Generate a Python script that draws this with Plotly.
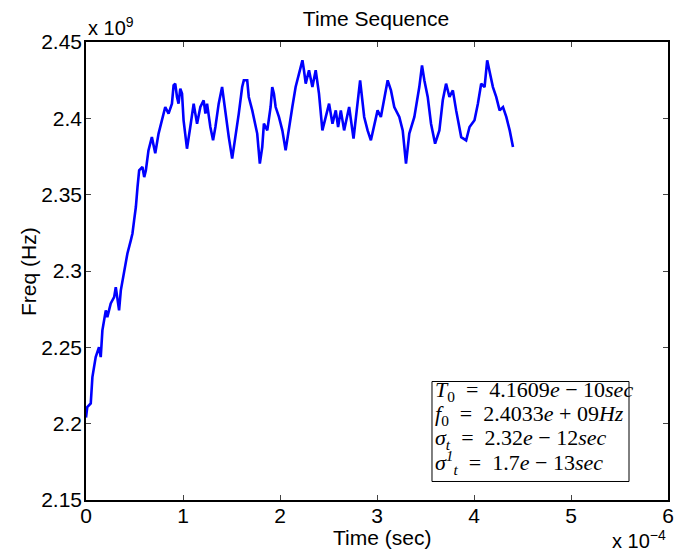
import plotly.graph_objects as go

# time in units of 1e-4 sec, frequency in units of 1e9 Hz
t = [0, 0.013, 0.049, 0.066, 0.100, 0.134, 0.152, 0.169, 0.204, 0.220, 0.255, 0.290, 0.307, 0.324, 0.341,
     0.359, 0.393, 0.427, 0.462, 0.479, 0.496, 0.514, 0.531, 0.548, 0.582, 0.600, 0.617, 0.634, 0.644,
     0.679, 0.714, 0.748, 0.783, 0.817, 0.851, 0.886, 0.903, 0.920, 0.938, 0.954, 0.972, 0.990, 1.006,
     1.024, 1.041, 1.075, 1.110, 1.127, 1.145, 1.179, 1.213, 1.231, 1.248, 1.282, 1.310, 1.334, 1.368,
     1.403, 1.420, 1.448, 1.472, 1.507, 1.541, 1.575, 1.610, 1.627, 1.662, 1.678, 1.714, 1.730, 1.765,
     1.792, 1.817, 1.834, 1.869, 1.903, 1.920, 1.937, 1.955, 1.989, 2.024, 2.058, 2.092, 2.127, 2.161,
     2.195, 2.231, 2.247, 2.265, 2.299, 2.334, 2.368, 2.402, 2.437, 2.471, 2.506, 2.541, 2.575, 2.599,
     2.627, 2.661, 2.713, 2.758, 2.799, 2.826, 2.868, 2.903, 2.937, 2.971, 3.006, 3.040, 3.075, 3.110,
     3.144, 3.178, 3.230, 3.265, 3.299, 3.333, 3.385, 3.436, 3.464, 3.488, 3.523, 3.557, 3.599, 3.643,
     3.678, 3.712, 3.747, 3.782, 3.816, 3.868, 3.919, 3.954, 4.005, 4.040, 4.074, 4.109, 4.136, 4.160,
     4.195, 4.229, 4.264, 4.299, 4.333, 4.368, 4.402]
freq = [2.204, 2.2108, 2.2132, 2.2305, 2.2436, 2.2501, 2.2436, 2.2611, 2.2742, 2.2698, 2.2788, 2.2829,
        2.2894, 2.2829, 2.2742, 2.2873, 2.2984, 2.3115, 2.3201, 2.3246, 2.3332, 2.3419, 2.3550, 2.3659,
        2.3681, 2.3615, 2.3659, 2.3746, 2.3790, 2.3877, 2.3771, 2.3900, 2.3987, 2.4074, 2.4031, 2.4096,
        2.4216, 2.4227, 2.4140, 2.4096, 2.4195, 2.4162, 2.3987, 2.3877, 2.3801, 2.3943, 2.4096, 2.4031,
        2.3965, 2.4074, 2.4118, 2.4031, 2.4096, 2.3943, 2.3856, 2.3943, 2.4096, 2.4205, 2.4118, 2.4009,
        2.3877, 2.3736, 2.3877, 2.4031, 2.4205, 2.4249, 2.4249, 2.4140, 2.4052, 2.4009, 2.3900, 2.3703,
        2.3812, 2.3965, 2.3921, 2.4074, 2.4205, 2.4162, 2.4074, 2.4009, 2.3921, 2.3790, 2.3943, 2.4074,
        2.4205, 2.4293, 2.4380, 2.4315, 2.4227, 2.4315, 2.4205, 2.4315, 2.4162, 2.3921, 2.4009, 2.4096,
        2.3965, 2.4052, 2.3943, 2.4052, 2.3921, 2.4074, 2.3867, 2.4118, 2.4249, 2.4009, 2.3921, 2.3856,
        2.3943, 2.4052, 2.4009, 2.4140, 2.4249, 2.4183, 2.4074, 2.4009, 2.3921, 2.3703, 2.3900, 2.4009,
        2.4205, 2.4347, 2.4249, 2.4140, 2.3965, 2.3834, 2.3921, 2.4118, 2.4227, 2.4140, 2.4183, 2.4052,
        2.3877, 2.3856, 2.3943, 2.3987, 2.4096, 2.4227, 2.4205, 2.4380, 2.4315, 2.4205, 2.4140, 2.4052,
        2.4074, 2.4009, 2.3921, 2.3812]

x_ticks = [0, 1, 2, 3, 4, 5, 6]
y_ticks = [2.15, 2.2, 2.25, 2.3, 2.35, 2.4, 2.45]
y_tick_text = ["2.15", "2.2", "2.25", "2.3", "2.35", "2.4", "2.45"]

SP = "\u2002"
info_lines = [
    f"<i>T</i><sub>0</sub>{SP}={SP}4.1609<i>e</i> − 10<i>sec</i>",
    f"<i>f</i><sub>0</sub>{SP}={SP}2.4033<i>e</i> + 09<i>Hz</i>",
    f"<i>σ<sub>t</sub></i>{SP}={SP}2.32<i>e</i> − 12<i>sec</i>",
    f"<i>σ<sup>1</sup><sub>t</sub></i>{SP}={SP}1.7<i>e</i> − 13<i>sec</i>",
]

SANS = "Liberation Sans, Arial, Helvetica, sans-serif"
SERIF = "Liberation Serif, DejaVu Serif, serif"
FS = 21

fig = go.Figure()
fig.add_trace(go.Scatter(x=t, y=freq, mode="lines",
                         line=dict(color="#0000ff", width=2.6), showlegend=False))

axis_common = dict(showline=True, linecolor="black", linewidth=1.5, mirror="allticks",
                   ticks="inside", ticklen=5, tickcolor="#444", showgrid=False, zeroline=False,
                   tickfont=dict(family=SANS, size=FS, color="black"))

fig.update_xaxes(range=[0, 6], tickvals=x_ticks, ticktext=[str(v) for v in x_ticks],
                 ticklabelstandoff=-4, **axis_common)
fig.update_yaxes(range=[2.15, 2.45], tickvals=y_ticks, ticktext=y_tick_text,
                 ticklabelstandoff=-2, **axis_common)

# the page body has an 8px default margin, so the figure is 8px smaller than the window
W, H = 680, 547
fig.update_layout(
    width=W, height=H,
    margin=dict(l=78, r=20, t=34, b=55),
    paper_bgcolor="white", plot_bgcolor="white",
    title=dict(text="Time Sequence", x=(376 - 8) / W, xanchor="center", y=1 - 11 / H, yanchor="middle",
               yref="container", font=dict(family=SANS, size=FS, color="black")),
)

ann = []
ann.append(dict(text="Time (sec)", xref="paper", yref="paper", x=0.5086, y=-0.082,
                xanchor="center", yanchor="middle", showarrow=False,
                font=dict(family=SANS, size=FS, color="black")))
ann.append(dict(text="Freq (Hz)", xref="paper", yref="paper", x=-0.0997, y=0.5,
                xanchor="center", yanchor="middle", textangle=-90, showarrow=False,
                font=dict(family=SANS, size=FS, color="black")))
ann.append(dict(text="x 10<sup>9</sup>", xref="paper", yref="paper", x=0.0, y=1.003,
                xanchor="left", yanchor="bottom", showarrow=False,
                font=dict(family=SANS, size=20, color="black")))
ann.append(dict(text="x 10<sup>−4</sup>", xref="paper", yref="paper", x=1.0, y=-0.118,
                xanchor="right", yanchor="bottom", showarrow=False,
                font=dict(family=SANS, size=20, color="black")))

line_y = [0.2376, 0.1845, 0.1321, 0.0825]
for txt, yy in zip(info_lines, line_y):
    ann.append(dict(text=txt, xref="paper", yref="paper", x=0.5962, y=yy,
                    xanchor="left", yanchor="middle", showarrow=False,
                    font=dict(family=SERIF, size=22, color="black")))
fig.update_layout(annotations=ann)

fig.add_shape(type="rect", xref="paper", yref="paper", x0=0.5945, x1=0.933, y0=0.0404, y1=0.2587,
              line=dict(color="black", width=1), fillcolor="rgba(0,0,0,0)")

fig.write_html("out.html")
